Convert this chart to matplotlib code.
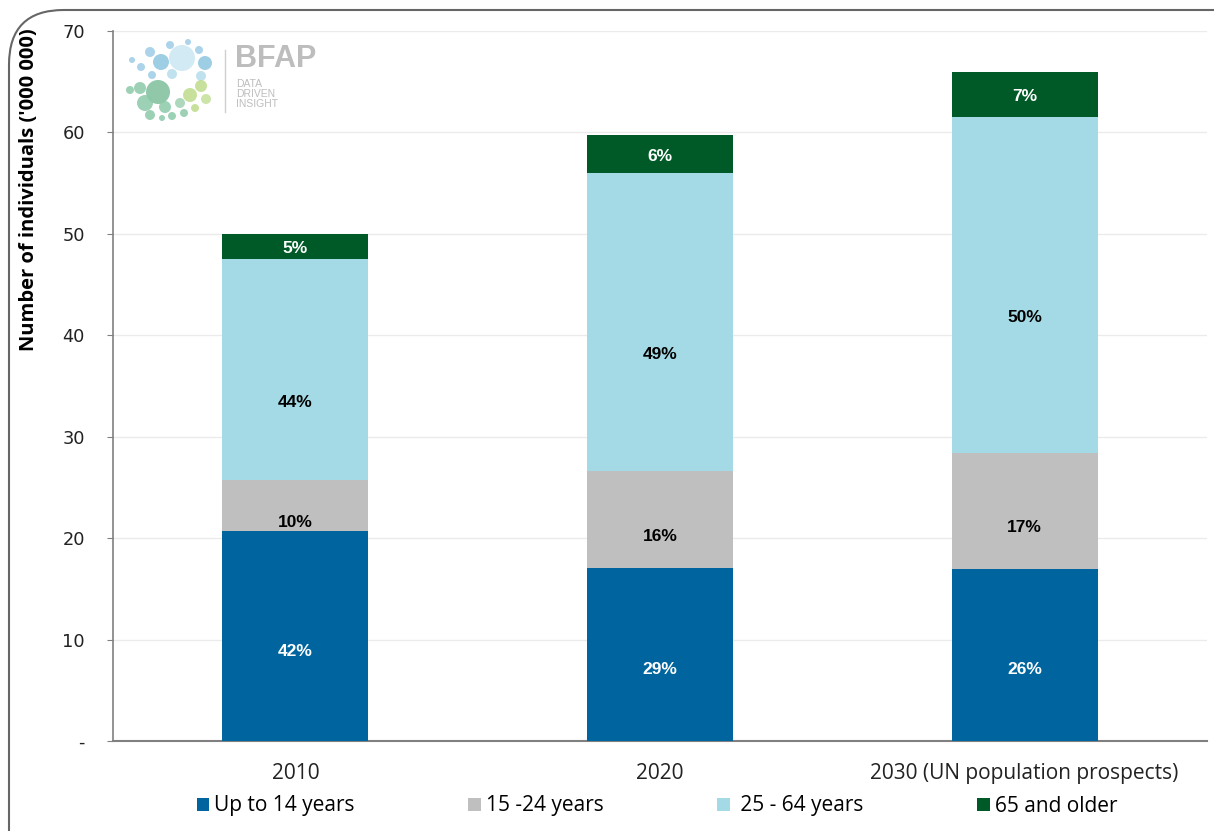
import matplotlib
matplotlib.use("Agg")
import matplotlib.pyplot as plt
from matplotlib.patches import FancyBboxPatch, Ellipse
import numpy as np

categories = ["2010", "2020", "2030 (UN population prospects)"]
series_names = ["Up to 14 years", "15 -24 years", " 25 - 64 years", "65 and older"]
up_to_14 = [20.7, 17.1, 17.0]
age_15_24 = [5.0, 9.5, 11.4]
age_25_64 = [21.8, 29.4, 33.1]
age_65_plus = [2.5, 3.7, 4.5]
pct_up_to_14 = ["42%", "29%", "26%"]
pct_15_24 = ["10%", "16%", "17%"]
pct_25_64 = ["44%", "49%", "50%"]
pct_65_plus = ["5%", "6%", "7%"]
y_ticks = [0, 10, 20, 30, 40, 50, 60, 70]
y_tick_labels = ["-", "10", "20", "30", "40", "50", "60", "70"]

series = [up_to_14, age_15_24, age_25_64, age_65_plus]
labels = [pct_up_to_14, pct_15_24, pct_25_64, pct_65_plus]
colors = ["#00659F", "#BFBFBF", "#A3DAE6", "#005A27"]
label_colors = ["white", "black", "black", "white"]
label_shift = [1.5, 1.7, 3.2, 0.2]

narrow = ["Liberation Sans Narrow", "Open Sans", "DejaVu Sans"]

fig = plt.figure(figsize=(12.14, 8.31), dpi=100)
ax = fig.add_axes([113/1214, 1-741/831, (1207-113)/1214, (741-31)/831])

x = np.arange(len(categories))
bottom = np.zeros(len(categories))
handles = []
for vals, labs, col, lc, sh, name in zip(series, labels, colors, label_colors, label_shift, series_names):
    vals = np.array(vals)
    b = ax.bar(x, vals, 0.4, bottom=bottom, color=col, label=name, zorder=3)
    handles.append(b)
    for xi, v, bt, lab in zip(x, vals, bottom, labs):
        ax.text(xi, bt + v/2 - sh, lab, ha="center", va="center", color=lc,
                fontsize=12.5, fontweight="bold", family=["Liberation Sans", "DejaVu Sans"], zorder=4)
    bottom = bottom + vals

ax.set_xlim(-0.5, 2.5)
ax.set_ylim(0, 70)
ax.set_yticks(y_ticks)
ax.set_yticklabels(y_tick_labels, fontsize=12.8, color="#222222", family="DejaVu Sans")
ax.set_xticks(x)
ax.set_xticklabels(categories, fontsize=15, family=narrow, color="#222222")
ax.tick_params(axis="x", length=0, pad=16)
ax.tick_params(axis="y", length=4.3, color="#808080", pad=16)
ax.grid(axis="y", color="#EBEBEB", linewidth=1, zorder=0)
for s in ["top", "right"]:
    ax.spines[s].set_visible(False)
ax.spines["left"].set_color("#808080")
ax.spines["bottom"].set_color("#808080")
ax.spines["left"].set_linewidth(1.2)
ax.spines["bottom"].set_linewidth(1.5)
ax.set_ylabel("Number of individuals ('000 000)", fontsize=14.5, fontweight="bold",
              family=narrow)
ax.yaxis.set_label_coords((29-113)/1094, (741-190)/710)
ax.yaxis.label.set_va("center")

leg = fig.legend(handles=handles, labels=series_names, loc="center", ncol=4,
                 bbox_to_anchor=(657/1214, 1-806/831), frameon=False,
                 prop={"family": narrow, "size": 15},
                 handlelength=0.6, handleheight=0.6, handletextpad=0.25, columnspacing=5.45)

# rounded border
border = FancyBboxPatch((9/1214, -0.2), 1.3, 1.2 - 10/831, boxstyle="round,pad=0,rounding_size=0.045",
                        transform=fig.transFigure, fill=False, edgecolor="#666666", linewidth=1.5,
                        mutation_aspect=1214/831)
fig.patches.append(border)

# decorative logo
logo_circles = [
    (182, 58, 13, "#CBE7F1"), (161, 62, 8, "#8DC6E0"), (150, 52, 5, "#9CCCE6"), (170, 45, 4, "#9CCCE6"),
    (205, 63, 7, "#8DC6E0"), (199, 50, 4, "#9CCCE6"), (141, 67, 4, "#9CCCE6"), (132, 60, 3, "#9CCCE6"),
    (172, 74, 5, "#B5DCEB"), (152, 75, 4, "#9CCCE6"), (201, 76, 5, "#B5DCEB"), (188, 42, 3, "#9CCCE6"),
    (158, 92, 12, "#7DBF9A"), (140, 88, 6, "#8CC9A8"), (130, 90, 4, "#8CC9A8"), (145, 103, 8, "#8CC9A8"),
    (165, 107, 6, "#8CC9A8"), (180, 103, 5, "#9FD2B3"), (150, 115, 5, "#8CC9A8"), (172, 116, 4, "#8CC9A8"),
    (190, 95, 7, "#BEDC8C"), (201, 86, 6, "#BEDC8C"), (206, 99, 5, "#C5E09A"), (195, 108, 4, "#BEDC8C"),
    (184, 113, 4, "#8CC9A8"), (162, 118, 3, "#8CC9A8"),
]
for (px, py, r, col) in logo_circles:
    fig.patches.append(Ellipse((px/1214, 1-py/831), 2*r/1214, 2*r/831, transform=fig.transFigure,
                               facecolor=col, edgecolor="none", alpha=0.85))
fig.add_artist(plt.Line2D([225/1214, 225/1214], [1-50/831, 1-112/831], color="#D0D0D0", lw=1,
                          transform=fig.transFigure))
fig.text(235/1214, 1-59/831, "BFAP", fontsize=22, fontweight="bold", color="#BDBDBD",
         family="Liberation Sans", va="center")
fig.text(236/1214, 1-94/831, "DATA\nDRIVEN\nINSIGHT", fontsize=7.5, color="#BDBDBD",
         family="Liberation Sans", va="center", linespacing=1.05)

fig.savefig("out.png", dpi=100)
